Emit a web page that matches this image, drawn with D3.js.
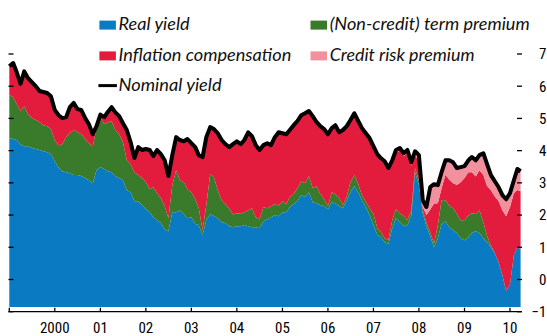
<!DOCTYPE html>
<html>
<head>
<meta charset="utf-8">
<script src="https://cdn.jsdelivr.net/npm/d3@7"></script>
<style>
  html, body { margin: 0; padding: 0; background: #fff; }
  svg { display: block; }
</style>
</head>
<body>
<svg id="chart" width="547" height="336"></svg>
<script>
// Monthly observations, January 1999 to late March 2010 (per cent)
const firstMonth = new Date(1999, 0, 1);
const afterLastMonth = new Date(2010, 3, 1);
const finalDay = new Date(2010, 2, 27);
const dates = d3.timeMonth.range(firstMonth, afterLastMonth).concat([finalDay]);

const realYield = [
  4.39,4.36,4.33,4.20,4.14,4.14,4.08,4.05,4.02,3.98,
  3.95,3.89,3.67,3.46,3.36,3.33,3.30,3.24,3.24,3.21,
  3.15,3.08,2.99,3.39,3.49,3.43,3.36,3.33,3.21,3.15,
  3.08,2.77,2.71,2.43,2.43,2.31,2.18,2.09,1.93,1.84,
  1.75,1.56,1.50,2.09,2.09,2.15,2.03,1.90,1.93,1.72,
  1.69,1.38,1.84,2.03,1.97,1.90,1.78,1.75,1.65,1.62,
  1.65,1.65,1.69,1.65,1.62,1.62,1.59,1.81,1.87,1.93,
  2.00,1.96,2.09,2.09,2.25,2.34,2.43,2.62,2.56,2.71,
  2.40,2.37,2.31,2.28,2.18,2.40,2.37,2.28,2.21,2.46,
  2.71,2.90,2.71,2.46,2.25,2.00,1.69,1.38,1.32,1.16,
  1.10,1.59,1.90,1.78,1.66,1.69,1.99,3.33,2.93,2.06,
  1.66,1.34,1.00,1.28,1.72,1.81,1.62,1.53,1.44,1.28,
  1.22,1.31,1.44,1.50,1.44,1.28,1.16,1.00,0.82,0.54,
  0.13,-0.36,-0.15,0.75,1.00,0.94
];

const termPremium = [
  1.34,1.30,1.12,1.02,1.24,0.99,0.93,0.90,0.87,0.81,
  0.81,0.78,0.65,0.71,0.84,1.09,1.24,1.40,1.34,1.30,
  1.21,1.15,1.15,1.30,1.53,1.40,1.52,1.58,1.43,1.37,
  1.18,0.93,0.87,0.90,0.81,0.84,0.84,0.71,0.93,0.84,
  0.78,0.71,0.40,0.84,1.30,0.93,0.99,0.90,0.78,0.78,
  0.53,0.16,0.47,1.24,1.21,0.87,0.68,0.59,0.56,0.40,
  0.40,0.40,0.40,0.50,0.59,0.31,0.28,0.43,0.34,0.34,
  0.34,0.34,0.34,0.25,0.31,0.31,0.40,0.43,0.43,0.50,
  0.43,0.53,0.34,0.22,0.10,0.31,0.28,0.25,0.10,0.12,
  0.31,0.34,0.25,0.16,0.16,0.22,0.34,0.22,0.16,0.12,
  0.12,0.25,0.28,0.28,0.31,0.16,0.16,0.12,0.16,0.09,
  0.12,0.12,0.12,0.40,0.75,0.65,0.68,0.68,0.59,0.56,
  0.62,0.68,0.62,0.53,0.71,0.50,0.19,0.05,0.00,0.00,
  0.00,0.00,0.00,0.00,0.00,0.00
];

const inflationCompensation = [
  0.86,1.03,0.96,0.82,1.05,1.09,1.09,1.02,0.93,1.00,
  1.00,0.99,0.91,0.90,0.78,0.59,0.78,0.81,0.68,0.72,
  0.62,0.56,0.34,0.04,0.05,0.18,0.29,0.41,0.52,0.52,
  0.56,0.91,0.65,0.41,0.84,0.84,1.00,1.19,0.94,1.31,
  1.33,1.40,1.28,0.90,1.00,1.22,1.24,1.53,1.49,1.58,
  1.61,2.23,2.08,1.43,1.46,1.74,1.84,1.83,1.87,2.15,
  2.21,2.12,2.21,2.39,2.21,2.21,2.12,1.90,1.99,1.87,
  2.05,2.24,2.08,2.14,2.05,2.11,2.06,2.02,2.14,1.99,
  2.21,1.96,2.08,2.14,2.20,1.96,2.11,2.01,2.30,2.15,
  1.89,1.88,1.92,2.04,2.09,2.12,2.05,2.23,2.22,2.31,
  2.16,1.78,1.76,1.94,1.86,2.07,1.39,0.38,0.62,0.11,
  0.22,0.71,1.24,0.69,0.36,0.79,0.80,0.78,0.90,1.18,
  1.31,1.34,1.27,1.17,1.24,1.46,1.55,1.72,1.76,1.90,
  2.02,2.32,2.40,1.93,1.78,1.80
];

const creditRiskPremium = [
  0.03,0.03,0.03,0.03,0.03,0.03,0.03,0.03,0.03,0.03,
  0.03,0.03,0.03,0.03,0.03,0.03,0.03,0.03,0.03,0.03,
  0.03,0.03,0.03,0.03,0.05,0.03,0.03,0.03,0.03,0.03,
  0.03,0.03,0.03,0.03,0.03,0.03,0.03,0.03,0.03,0.03,
  0.03,0.03,0.03,0.03,0.03,0.03,0.03,0.03,0.03,0.03,
  0.03,0.03,0.03,0.03,0.03,0.03,0.03,0.03,0.03,0.03,
  0.03,0.03,0.03,0.03,0.03,0.03,0.03,0.03,0.03,0.03,
  0.03,0.03,0.03,0.03,0.03,0.03,0.03,0.03,0.03,0.03,
  0.03,0.03,0.03,0.03,0.03,0.03,0.03,0.03,0.03,0.03,
  0.04,0.04,0.04,0.04,0.04,0.05,0.06,0.06,0.07,0.08,
  0.08,0.08,0.08,0.08,0.09,0.10,0.10,0.15,0.15,0.20,
  0.25,0.70,0.60,0.56,0.50,0.45,0.60,0.65,0.53,0.47,
  0.37,0.37,0.47,0.50,0.47,0.68,0.68,0.47,0.47,0.43,
  0.47,0.53,0.43,0.40,0.65,0.62
];

const seriesKeys = ["real", "term", "inflation", "credit"];
const seriesNames = ["Real yield", "(Non-credit) term premium", "Inflation compensation", "Credit risk premium"];
const seriesColors = ["#0a7bc2", "#3a7a2b", "#e31c3d", "#f2919e"];
const nominalName = "Nominal yield";

const yTickValues = [-1, 0, 1, 2, 3, 4, 5, 6, 7];
const yearTickYears = [1999, 2000, 2001, 2002, 2003, 2004, 2005, 2006, 2007, 2008, 2009, 2010];
const yearTickLabels = ["", "2000", "01", "02", "03", "04", "05", "06", "07", "08", "09", "10"];

// ---- scales ----
const x = d3.scaleTime()
  .domain([new Date(1999, 0, 1), new Date(2010, 0, 1)])
  .range([9.3, 510]);
const y = d3.scaleLinear().domain([-1, 7]).range([311.7, 54]);
const areaFloor = 307;   // blue band stops just above the axis line

const rows = dates.map((d, i) => ({
  date: d,
  real: realYield[i],
  term: termPremium[i],
  inflation: inflationCompensation[i],
  credit: creditRiskPremium[i]
}));
const stacked = d3.stack().keys(seriesKeys)(rows);

const svg = d3.select("#chart");

// ---- stacked components ----
stacked.forEach((layer, k) => {
  const area = d3.area()
    .x(d => x(d.data.date))
    .y0(d => k === 0 ? areaFloor : y(d[0]))
    .y1(d => y(d[1]))
    .curve(d3.curveLinear);
  svg.append("path")
    .datum(layer)
    .attr("fill", seriesColors[k])
    .attr("d", area);
});

// ---- nominal yield: sum of the components ----
const nominal = d3.line()
  .x(d => x(d.date))
  .y(d => y(d.real + d.term + d.inflation + d.credit));
svg.append("path")
  .datum(rows)
  .attr("fill", "none")
  .attr("stroke", "#000")
  .attr("stroke-width", 4)
  .attr("stroke-linejoin", "round")
  .attr("d", nominal);

// ---- axes ----
const axisFont = "'Liberation Sans Narrow', 'Arial Narrow', 'Roboto Condensed', 'Liberation Sans', sans-serif";

const axes = svg.append("g").attr("stroke", "#000").attr("stroke-width", 1.3);
// left inner ticks
axes.selectAll("line.lt").data(yTickValues).join("line")
  .attr("class", "lt")
  .attr("x1", 8.5).attr("x2", 13.5)
  .attr("y1", d => y(d)).attr("y2", d => y(d));
// right ticks
axes.selectAll("line.rt").data(yTickValues).join("line")
  .attr("class", "rt")
  .attr("x1", 517).attr("x2", 522)
  .attr("y1", d => y(d)).attr("y2", d => y(d));
// bottom axis line and year ticks
axes.append("line")
  .attr("x1", 8.5).attr("x2", 521.5)
  .attr("y1", y(-1)).attr("y2", y(-1));
axes.selectAll("line.xt").data(yearTickYears).join("line")
  .attr("class", "xt")
  .attr("x1", d => x(new Date(d, 0, 1))).attr("x2", d => x(new Date(d, 0, 1)))
  .attr("y1", y(-1) - 4).attr("y2", y(-1));

svg.append("g").selectAll("text").data(yearTickYears).join("text")
  .attr("x", d => x(new Date(d, 0, 1)))
  .attr("y", 332.5)
  .attr("text-anchor", "middle")
  .style("font-family", axisFont)
  .style("font-size", "15px")
  .attr("fill", "#000")
  .text((d, i) => yearTickLabels[i]);

svg.append("g").selectAll("text").data(yTickValues).join("text")
  .attr("x", 546.5)
  .attr("y", d => y(d) + 5.4)
  .attr("text-anchor", "end")
  .style("font-family", axisFont)
  .style("font-size", "15px")
  .attr("fill", "#000")
  .text(d => d < 0 ? "\u2212" + Math.abs(d) : String(d));

// ---- legend ----
const legendFont = "Lato, 'Open Sans', 'Noto Sans', sans-serif";
const legendItems = [
  { name: seriesNames[0], color: seriesColors[0], col: 0, row: 0, len: 71 },
  { name: seriesNames[2], color: seriesColors[2], col: 0, row: 1, len: 172.7 },
  { name: nominalName, color: "#000", col: 0, row: 2, len: 103, line: true },
  { name: seriesNames[1], color: seriesColors[1], col: 1, row: 0, len: 200 },
  { name: seriesNames[3], color: seriesColors[3], col: 1, row: 1, len: 144.8 }
];
const colX = [99.4, 310.5];
const rowBase = [29.8, 60.6, 91.2];

const lg = svg.append("g");
legendItems.forEach(it => {
  const sx = colX[it.col];
  const by = rowBase[it.row];
  if (it.line) {
    lg.append("line")
      .attr("x1", sx - 1).attr("x2", sx + 17.5)
      .attr("y1", by - 5.6).attr("y2", by - 5.6)
      .attr("stroke", it.color).attr("stroke-width", 3);
  } else {
    lg.append("rect")
      .attr("x", sx).attr("y", by - 9.2)
      .attr("width", 16.5).attr("height", 9)
      .attr("fill", it.color);
  }
  lg.append("text")
    .attr("x", sx + 19.2)
    .attr("y", by)
    .attr("textLength", it.len)
    .attr("lengthAdjust", "spacingAndGlyphs")
    .style("font-family", legendFont)
    .style("font-style", "italic")
    .style("font-size", "16.5px")
    .attr("fill", "#111")
    .text(it.name);
});
</script>
</body>
</html>
